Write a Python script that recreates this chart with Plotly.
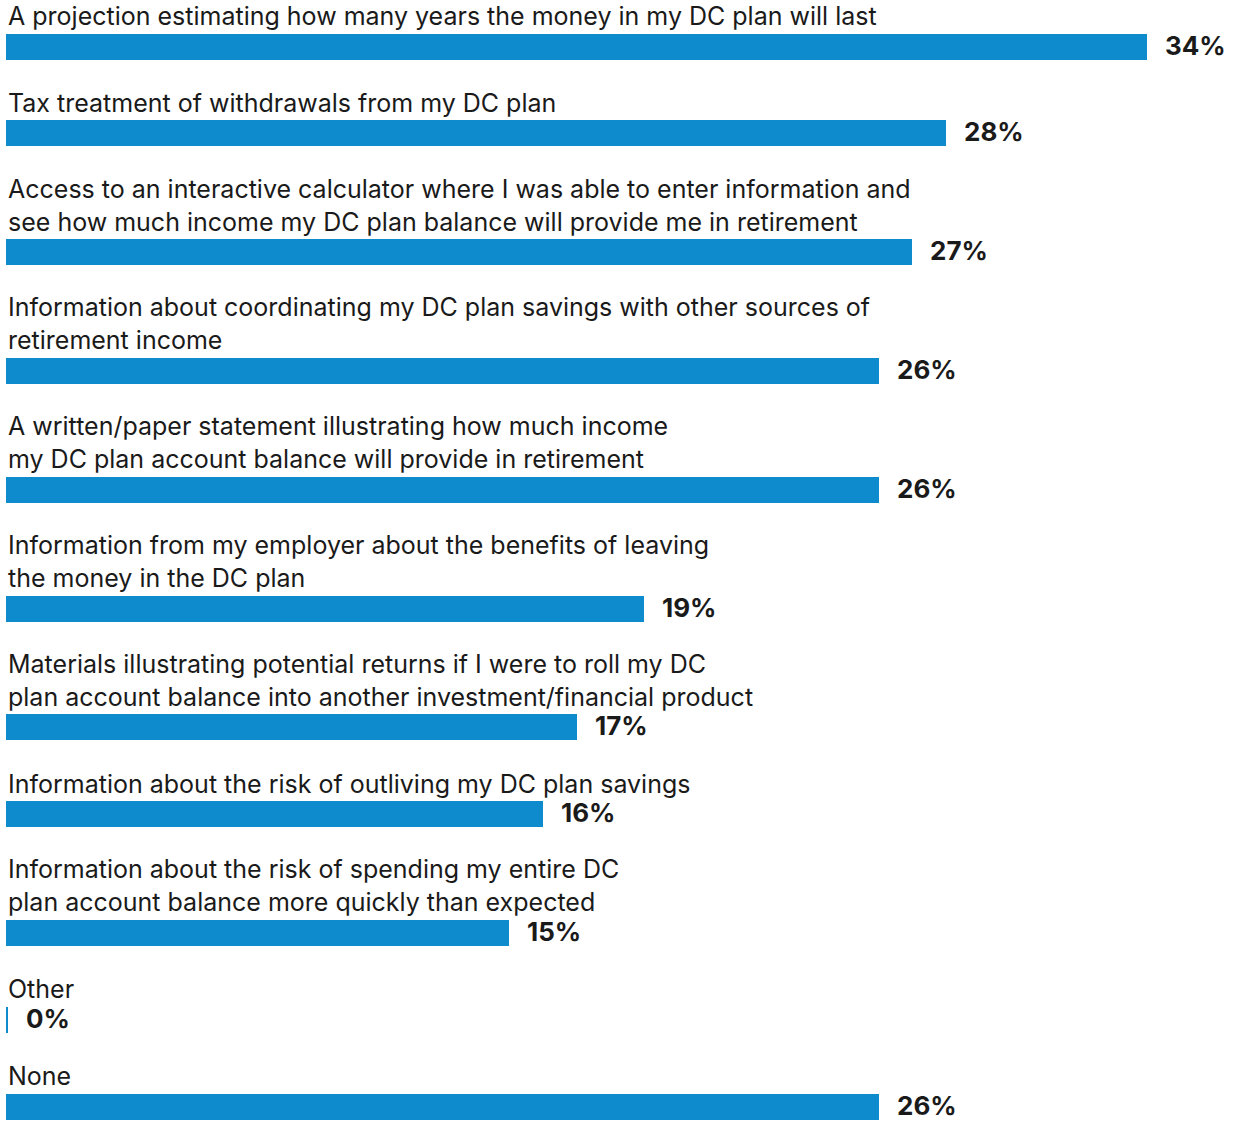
import plotly.graph_objects as go

labels = [
    "A projection estimating how many years the money in my DC plan will last",
    "Tax treatment of withdrawals from my DC plan",
    "Access to an interactive calculator where I was able to enter information and<br>see how much income my DC plan balance will provide me in retirement",
    "Information about coordinating my DC plan savings with other sources of<br>retirement income",
    "A written/paper statement illustrating how much income<br>my DC plan account balance will provide in retirement",
    "Information from my employer about the benefits of leaving<br>the money in the DC plan",
    "Materials illustrating potential returns if I were to roll my DC<br>plan account balance into another investment/financial product",
    "Information about the risk of outliving my DC plan savings",
    "Information about the risk of spending my entire DC<br>plan account balance more quickly than expected",
    "Other",
    "None",
]
values = [34, 28, 27, 26, 26, 19, 17, 16, 15, 0, 26]

W, H = 1238, 1122
LINE_H = 32
BAR_H = 26
GAP = 28.8
TOP = 1.5
FONT = "Inter, Lato, sans-serif"
BLUE = "#0D8BCD"
TXT = "#1a1a1a"

# compute vertical layout (pixel units on a reversed y axis)
centers = []
y = TOP
for lab in labels:
    n = lab.count("<br>") + 1
    bar_top = y + LINE_H * n
    centers.append(bar_top + BAR_H / 2)
    y = bar_top + BAR_H + GAP

disp = [max(v, 0.06) for v in values]

fig = go.Figure(go.Bar(
    x=disp, y=centers, orientation="h", width=BAR_H,
    marker=dict(color=BLUE, line=dict(width=0)),
    hoverinfo="skip",
))

anns = []
for lab, v, d, c in zip(labels, values, disp, centers):
    anns.append(dict(
        x=0, y=c - BAR_H / 2 - 0.5, xref="x", yref="y", text=lab,
        xanchor="left", yanchor="bottom", xshift=0, showarrow=False,
        align="left", font=dict(family=FONT, size=25, color=TXT),
    ))
    anns.append(dict(
        x=d, y=c, xref="x", yref="y", text=f"<b>{v}%</b>",
        xanchor="left", yanchor="middle", xshift=16, yshift=1.5, showarrow=False,
        font=dict(family=FONT, size=26, color=TXT, weight=800),
    ))

px_per = (1147 - 6) / 34
fig.update_layout(
    width=W, height=H,
    margin=dict(l=6, r=0, t=0, b=0),
    paper_bgcolor="white", plot_bgcolor="white",
    xaxis=dict(range=[0, (W - 6) / px_per], visible=False, fixedrange=True),
    yaxis=dict(range=[H, 0], visible=False, fixedrange=True),
    annotations=anns,
    showlegend=False,
    bargap=0,
)
fig.write_html("out.html", config={"displayModeBar": False})
